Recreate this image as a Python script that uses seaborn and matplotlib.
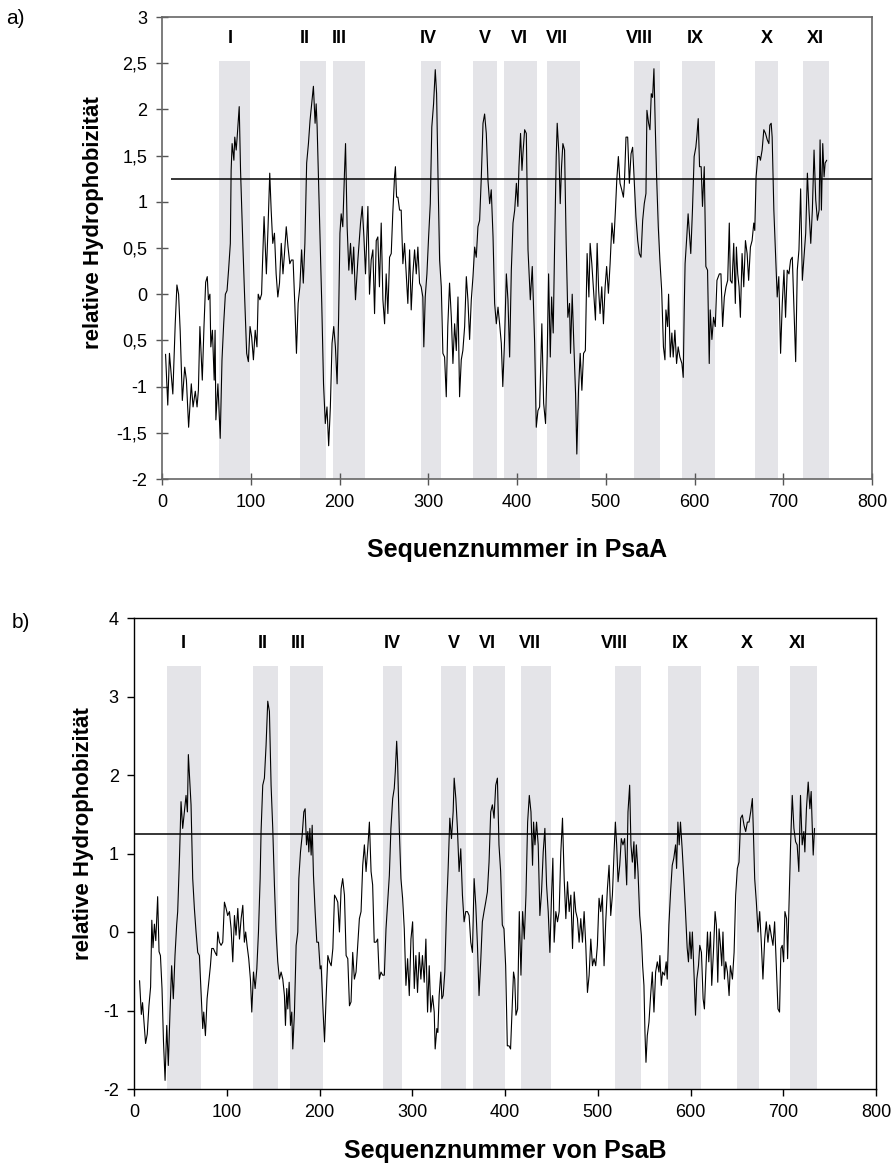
import numpy as np
import matplotlib
matplotlib.use("Agg")
import matplotlib.pyplot as plt
import seaborn as sns

# --- PsaA hydropathy profile ---
psaA_pos = [4, 6.5, 8.4, 12.2, 14.9, 16.8, 18.7, 20.5, 22.9, 25.6, 27.5, 30, 33, 35, 37.5, 39.5, 41, 42.7,
            45.4, 47.3, 49.2, 51, 52.3, 54, 55, 56.8, 58.8, 59.8, 60.7, 63, 65.6, 67.6, 69.5, 71.4, 73.3, 75,
            77, 77.9, 79, 81, 82, 83.6, 84.7, 87, 88.5, 91.2, 93, 95.4, 97.3, 99.2, 101, 103, 105, 107, 108.4,
            110.3, 112.2, 113, 115, 117.6, 119.5, 121.4, 123, 124.8, 126.7, 128.6, 130.5, 132.4, 134.4, 136.3,
            138, 140, 142, 144, 145.8, 147.7, 149.6, 151.5, 153.4, 155.3, 157.3, 159.2, 161, 163, 165, 166.8,
            168.7, 170.6, 172.5, 173.7, 174.8, 176.3, 178.2, 180, 182, 184, 185.9, 187.8, 189.7, 191.6, 193.5,
            195.4, 197.3, 199, 200.5, 201.9, 203.7, 205.6, 206.8, 208.6, 210.5, 212.4, 214.2, 216, 218, 220.7,
            223.7, 225.6, 227.5, 229.3, 232, 233.8, 235.7, 237.6, 239.5, 241.4, 243.2, 245, 247, 248.9, 250.8,
            252.6, 254.5, 256.4, 258.3, 260, 262, 263, 264.3, 265.8, 267.7, 269.5, 271.4, 273.3, 275.2, 277,
            279, 280.8, 282.7, 284.6, 286.5, 288.3, 290.2, 292, 293.9, 295, 296.6, 298.5, 300.4, 302.3, 304,
            306, 307.9, 309.4, 311, 312.8, 314.7, 316.5, 318.4, 320.3, 322, 324, 326, 327.8, 329.7, 331.6,
            333.5, 335.3, 337.2, 339, 341, 342.9, 344.7, 346.6, 348.5, 350.4, 352.3, 354.1, 356, 357.9, 359.8,
            361.7, 363.5, 365.4, 367.3, 369.2, 371, 373, 374.8, 376.7, 378.6, 380.4, 382.3, 384, 386, 388,
            389.8, 391.7, 393.6, 395.5, 397.4, 399.3, 401, 402.2, 404, 405.6, 406.7, 408.6, 410.5, 412.4, 415,
            417.2, 419.9, 421.7, 423.6, 425.5, 428, 430, 432.2, 434, 435.6, 437.5, 439, 440.8, 442.3, 444.2,
            445.3, 447.2, 448.7, 450.2, 451.7, 453.6, 455.4, 457.3, 459.2, 460.3, 462.2, 464, 466, 467.4, 469.3,
            471.2, 473.1, 475, 477, 479, 481, 482.4, 484.3, 486, 488.4, 490.3, 492, 493.6, 495.5, 497.4, 499.3,
            501, 503, 504.9, 507, 509, 510.9, 512.4, 514.2, 516.1, 518, 519.9, 521, 522.8, 524.7, 526.6, 528.5,
            530.3, 532.2, 534, 536, 537.8, 539.7, 541.6, 543.4, 545.3, 546.4, 548.3, 549.8, 551.3, 552.8, 554.3,
            555.8, 557.3, 559.2, 561, 563, 565, 566.7, 567.8, 569.7, 570.8, 572.7, 574.5, 576, 577.9, 579.8,
            581.6, 583.5, 585.8, 587.3, 588.4, 589.4, 591.3, 592.8, 594.3, 595.8, 597.7, 599.6, 601.5, 602.6,
            604.2, 605.7, 607.5, 609, 611, 612.8, 614.7, 616.6, 617.7, 619.6, 621.5, 623.4, 625.3, 628, 629.8,
            631.7, 633.6, 635.5, 637.4, 639.2, 640.4, 642.3, 644.2, 646, 647.2, 648.7, 650.2, 651.7, 653.6,
            655.5, 657.4, 659.3, 661, 663, 664.9, 666.8, 667.9, 669.4, 671.3, 673.2, 674.3, 676.2, 678.1, 680,
            682, 683.8, 684.9, 686.4, 687.5, 689.4, 691.3, 693.2, 695, 697, 698.9, 700.8, 702.6, 704.5, 706.4,
            708.3, 710.2, 712, 714, 715.8, 717.7, 719.6, 721.5, 723.4, 725.3, 727.2, 729, 731, 732.8, 734.7,
            736.6, 738.5, 740.4, 741.5, 743, 744.5, 746, 747.2, 749]
psaA_hyd = [-0.65, -1.2, -0.64, -1.08, -0.32, 0.1, 0.0, -0.4, -1.15, -0.79, -0.93, -1.44, -0.97, -1.22, -1.05,
            -1.22, -1.04, -0.35, -0.93, -0.35, 0.13, 0.19, -0.06, 0.0, -0.57, -0.39, -0.93, -0.39, -1.36, -0.97,
            -1.56, -0.71, -0.32, 0.0, 0.04, 0.26, 0.55, 1.34, 1.63, 1.45, 1.7, 1.56, 1.7, 2.03, 1.34, 0.51, 0.0,
            -0.64, -0.73, -0.35, -0.46, -0.71, -0.39, -0.57, 0.0, -0.06, 0.0, 0.26, 0.84, 0.22, 0.73, 1.31, 0.91,
            0.55, 0.66, 0.22, -0.03, 0.12, 0.55, 0.22, 0.44, 0.73, 0.51, 0.33, 0.37, 0.37, -0.1, -0.64, -0.1,
            0.08, 0.48, 0.12, 0.55, 1.42, 1.63, 1.88, 2.06, 2.25, 1.85, 2.06, 1.81, 1.27, 0.55, -0.1, -0.97,
            -1.4, -1.22, -1.64, -1.22, -0.53, -0.35, -0.57, -0.97, -0.25, 0.66, 0.87, 0.73, 1.31, 1.63, 0.73,
            0.26, 0.55, 0.22, 0.51, -0.06, 0.37, 0.77, 0.95, 0.62, 0.22, 0.95, 0.0, 0.37, 0.48, -0.21, 0.58,
            0.62, 0.08, 0.77, -0.06, -0.32, 0.22, -0.21, 0.4, 0.44, 0.87, 1.27, 1.38, 1.05, 1.05, 0.91, 0.91,
            0.33, 0.55, 0.22, -0.1, 0.48, -0.17, 0.22, 0.48, 0.22, 0.51, 0.12, 0.08, -0.03, -0.57, -0.03, 0.22,
            0.62, 0.98, 1.81, 2.06, 2.43, 2.17, 1.27, 0.37, 0.08, -0.64, -0.68, -1.11, -0.35, 0.12, -0.25,
            -0.75, -0.32, -0.61, -0.03, -1.11, -0.71, -0.61, -0.35, 0.19, -0.06, -0.49, -0.06, 0.19, 0.51, 0.4,
            0.73, 0.8, 1.27, 1.85, 1.95, 1.74, 1.23, 0.98, 1.13, 0.62, -0.1, -0.32, -0.14, -0.32, -0.53, -1.0,
            -0.49, 0.22, -0.06, -0.68, 0.26, 0.77, 0.91, 1.2, 0.95, 1.38, 1.74, 1.34, 1.52, 1.78, 1.74, 0.48,
            -0.06, 0.3, -0.53, -1.44, -1.26, -1.22, -0.32, -1.18, -1.4, -0.68, 0.22, -0.68, -0.03, -0.42, 0.48,
            1.49, 1.85, 1.52, 0.98, 1.38, 1.63, 1.56, 0.55, -0.25, -0.1, -0.64, 0.0, -0.53, -1.08, -1.73, -1.04,
            -0.64, -1.04, -0.64, -0.61, 0.44, -0.03, 0.55, 0.33, 0.08, -0.28, 0.55, 0.04, -0.21, 0.08, -0.32,
            0.08, 0.3, 0.01, 0.33, 0.77, 0.55, 0.91, 1.23, 1.49, 1.2, 1.13, 1.05, 1.2, 1.7, 1.7, 1.2, 1.52, 1.59,
            1.2, 0.84, 0.58, 0.44, 0.4, 0.8, 0.98, 1.09, 1.99, 1.85, 1.78, 2.17, 2.13, 2.44, 1.81, 1.27, 0.73,
            0.37, 0.04, -0.57, -0.71, -0.17, -0.35, 0.0, -0.68, -0.42, -0.68, -0.39, -0.75, -0.57, -0.68, -0.75,
            -0.9, -0.17, 0.33, 0.62, 0.87, 0.66, 0.44, 0.91, 1.49, 1.59, 1.7, 1.9, 1.38, 1.38, 0.95, 1.38, 0.3,
            0.26, -0.75, -0.17, -0.49, -0.25, -0.35, 0.15, 0.22, 0.22, -0.35, -0.03, 0.08, 0.15, 0.77, 0.15,
            0.12, 0.55, -0.1, 0.51, 0.22, 0.08, -0.25, 0.44, 0.08, 0.58, 0.44, 0.15, 0.51, 0.58, 0.77, 0.69,
            1.27, 1.49, 1.49, 1.45, 1.56, 1.78, 1.74, 1.67, 1.63, 1.83, 1.85, 1.7, 0.91, 0.44, -0.03, 0.19,
            -0.64, -0.1, 0.26, -0.25, 0.26, 0.22, 0.37, 0.4, -0.13, -0.73, 0.26, 0.48, 1.14, 0.15, 0.4, 0.66,
            1.31, 0.91, 0.55, 0.91, 1.56, 1.02, 0.8, 0.91, 1.67, 0.91, 1.63, 1.27, 1.42, 1.45]

# --- PsaB hydropathy profile ---
psaB_pos = [6, 7.9, 9.2, 10.8, 12.5, 14.3, 16.1, 17.9, 19.2, 20.5, 22, 23.5, 25.5, 27, 28.5, 30.2, 31.8, 33.5,
            35.3, 37, 38.8, 40.6, 42.4, 44.2, 46, 47.1, 48.9, 50.7, 52.5, 54.3, 56.1, 57.6, 58.6, 60.4, 61.5,
            63.3, 65.1, 66.9, 68.7, 70.5, 72.3, 74.1, 75.2, 77, 78.8, 80.6, 82.4, 83.8, 85.6, 87.4, 89.2, 90.3,
            92.1, 93.9, 95.7, 97.5, 99.3, 101, 102.9, 104.7, 106.5, 108.3, 110, 111.9, 113.7, 115.5, 117.3, 119,
            120.4, 121.9, 123.7, 125.5, 127, 128.8, 130.6, 132.4, 134.2, 136, 137, 138.8, 140.6, 142.4, 144.2,
            146, 147.8, 149.6, 151.4, 153.2, 155, 156.8, 158.6, 160.4, 162.2, 163.3, 164.7, 165.8, 167.3, 168.7,
            170.1, 171.2, 173, 174.8, 176.6, 177.7, 179.5, 181.3, 183.1, 184.5, 186, 187.4, 188.5, 189.6, 191,
            192.1, 193.5, 195.3, 197.1, 198.9, 200.7, 201.8, 203.6, 205.4, 207.2, 209, 210.8, 212.6, 214.4,
            216.2, 218, 219.7, 221.5, 223.3, 225, 226.9, 228.7, 230.5, 232.3, 234, 235.8, 237.6, 239.4, 241.2,
            243, 244.8, 246.6, 248.4, 250.2, 252, 253.8, 255.6, 257.3, 259, 260.9, 262.7, 264.5, 266.3, 268.1,
            269.9, 271.7, 273.5, 275.3, 277, 278.9, 280.6, 281.7, 283.2, 284.2, 286, 287.8, 289.6, 291.4, 293.2,
            295, 296.8, 298.6, 300.4, 302.2, 303.9, 305.7, 307.5, 309.3, 311, 312.9, 314.7, 316.5, 318.3, 320,
            321.9, 323.7, 324.7, 326.5, 327.6, 329, 330.8, 331.9, 333.3, 335.1, 336.9, 338.7, 340.5, 342.3,
            344.1, 345.2, 347, 348.7, 350.5, 352.3, 354.1, 355.9, 357.7, 359.5, 361.3, 363.1, 364.9, 366.7,
            368.5, 370.3, 372, 373.8, 375.6, 377.4, 379.2, 381, 382.8, 384.6, 386.4, 388.2, 390, 391.8, 393.5,
            395.3, 397.1, 398.9, 400.7, 402.5, 404.3, 406, 407.9, 409.2, 410.5, 411.8, 413.6, 415.4, 417.2, 419,
            420.8, 422.6, 424.4, 426.2, 428, 429.7, 430.8, 432.3, 434, 435.8, 437.6, 439.4, 441.2, 443, 444.8,
            446.6, 448.4, 450.2, 451.6, 453, 454.8, 456.6, 458.4, 460.2, 462, 463.8, 465.6, 467.4, 469.2, 471,
            472.8, 474.6, 476.3, 478.1, 479.9, 481.7, 483.5, 485.3, 487.1, 488.9, 490.7, 492.5, 494.3, 496,
            497.8, 499.6, 501.4, 503.2, 505, 506.8, 508.6, 510.4, 512.2, 514, 515.8, 517.6, 519, 520.4, 521.9,
            523.7, 525.4, 527.2, 529, 531.2, 532.6, 534.4, 535.8, 537.3, 539, 540.1, 541.6, 543.4, 545.2, 547,
            548.4, 549.8, 550.9, 552, 553.4, 555.2, 557, 558.8, 560.6, 562.4, 564.2, 566, 567, 568.5, 569.9, 572,
            573.8, 574.9, 576.7, 578.5, 580.3, 582, 583.9, 585, 586.4, 587.8, 589.2, 591, 592.8, 594.6, 596.4,
            597.8, 599.3, 600.7, 602, 604, 605.4, 606.8, 608.6, 610, 611.8, 613.6, 615, 616.5, 618.3, 619.7,
            621.5, 622.9, 624.7, 626.5, 627.9, 629.4, 630.8, 632.3, 633.7, 635, 636.6, 638, 639.8, 641.6, 643,
            645.2, 647, 648.7, 650.5, 652.3, 654.1, 655.9, 657.7, 659.5, 661.3, 663.1, 664.9, 666.7, 667.7,
            669.2, 671, 672.8, 674.6, 676.3, 678.1, 680, 681.7, 683.5, 685.3, 687, 688.9, 690.7, 692.5, 694.3,
            696, 697.5, 698.9, 700.4, 701.8, 703.6, 704.7, 706, 707.9, 709.7, 711.5, 713.3, 715, 716.8, 718.6,
            720.4, 722.2, 723.3, 725, 726.9, 728.7, 730.1, 731.2, 732.3, 733.7]
psaB_hyd = [-0.62, -1.05, -0.9, -1.16, -1.42, -1.3, -0.94, -0.7, 0.15, -0.2, 0.1, -0.11, 0.45, -0.25, -0.3,
            -0.72, -1.4, -1.89, -1.19, -1.7, -1.02, -0.43, -0.85, -0.3, 0.09, 0.26, 0.89, 1.66, 1.32, 1.53, 1.74,
            1.53, 2.26, 1.87, 1.62, 0.68, 0.3, 0.0, -0.26, -0.3, -0.77, -1.23, -1.02, -1.32, -0.85, -0.64, -0.43,
            -0.21, -0.21, -0.26, -0.3, 0.0, -0.13, -0.17, -0.13, 0.38, 0.3, 0.21, 0.26, 0.04, -0.38, 0.21, -0.04,
            0.3, -0.09, 0.17, 0.34, -0.13, 0.0, -0.17, -0.34, -0.6, -1.02, -0.51, -0.72, -0.47, 0.0, 0.68, 1.28,
            1.87, 1.96, 2.38, 2.94, 2.81, 1.87, 1.32, 0.6, 0.0, -0.38, -0.6, -0.51, -0.6, -0.81, -1.19, -0.72,
            -0.98, -0.64, -1.19, -1.02, -1.49, -1.02, -0.17, 0.0, 0.68, 1.02, 1.23, 1.53, 1.57, 1.11, 1.28, 1.02,
            1.32, 0.98, 1.36, 0.72, 0.26, -0.13, -0.13, -0.47, -0.43, -0.94, -1.4, -0.81, -0.3, -0.38, -0.43,
            -0.21, 0.47, 0.43, 0.38, 0.0, 0.55, 0.68, 0.47, -0.3, -0.34, -0.94, -0.89, -0.26, -0.6, -0.51, -0.17,
            0.17, 0.26, 0.85, 1.11, 0.77, 1.06, 1.4, 0.77, 0.6, -0.13, -0.13, -0.09, -0.6, -0.51, -0.55, -0.55,
            0.04, 0.38, 0.72, 1.32, 1.7, 1.83, 2.04, 2.43, 2.17, 1.32, 0.68, 0.43, 0.04, -0.68, -0.34, -0.81,
            -0.09, 0.13, -0.72, -0.3, -0.77, -0.26, -0.6, -0.3, -0.64, -0.09, -1.02, -0.43, -1.02, -0.81, -1.02,
            -1.49, -1.23, -1.28, -0.81, -0.51, -0.85, -0.81, -0.51, 0.26, 0.81, 1.45, 1.19, 1.53, 1.96, 1.7, 1.32,
            0.77, 1.06, 0.47, 0.13, 0.26, 0.26, 0.21, -0.13, -0.26, 0.68, 0.34, -0.17, -0.81, -0.38, 0.13, 0.26,
            0.38, 0.51, 0.89, 1.53, 1.62, 1.45, 1.87, 1.96, 1.11, 0.77, 0.09, 0.04, -0.43, -1.45, -1.45, -1.49,
            -0.9, -0.51, -0.6, -1.06, -0.98, 0.26, -0.55, 0.26, -0.09, 0.47, 1.4, 1.74, 1.53, 0.85, 1.4, 1.11,
            1.4, 1.11, 0.21, 0.51, 1.02, 1.32, 0.6, 0.26, -0.26, 0.47, 0.94, -0.13, 0.26, 0.13, 0.26, 1.02, 1.45,
            0.68, 0.17, 0.64, 0.26, 0.47, -0.21, 0.51, 0.26, 0.17, -0.13, 0.17, -0.13, 0.26, -0.17, -0.77, -0.55,
            -0.09, -0.43, -0.34, -0.43, -0.17, 0.43, 0.26, 0.47, -0.43, 0.13, 0.55, 0.85, 0.21, 0.47, 1.02, 1.4,
            1.11, 0.64, 0.85, 1.19, 1.11, 1.19, 0.6, 1.53, 1.87, 1.11, 0.89, 1.15, 0.68, 1.11, 0.77, 0.21, -0.04,
            -0.43, -0.68, -1.28, -1.66, -1.32, -1.15, -0.81, -0.51, -1.02, -0.51, -0.38, -0.51, -0.3, -0.68,
            -0.51, -0.55, -0.38, -0.6, 0.09, 0.51, 0.85, 0.94, 1.11, 0.81, 1.4, 1.11, 1.4, 1.06, 0.68, 0.26,
            -0.2, -0.38, 0.0, -0.34, 0.0, -0.6, -1.06, -0.6, -0.43, -0.17, -0.26, -0.85, -0.98, -0.51, 0.0,
            -0.38, 0.0, -0.68, -0.26, 0.26, 0.09, -0.64, 0.04, -0.17, -0.43, 0.0, -0.6, -0.38, -0.51, -0.81,
            -0.43, -0.6, -0.26, 0.47, 0.81, 0.89, 1.45, 1.49, 1.36, 1.28, 1.4, 1.4, 1.53, 1.7, 1.32, 0.68, 0.38,
            0.0, 0.26, -0.13, -0.6, -0.09, 0.13, -0.13, 0.09, -0.04, -0.17, 0.13, -0.43, -0.98, -1.02, -0.21,
            -0.17, -0.38, 0.26, 0.17, -0.34, 0.26, 1.11, 1.74, 1.32, 1.15, 1.11, 0.77, 1.74, 1.11, 1.28, 1.02,
            1.57, 1.91, 1.57, 1.79, 1.36, 0.98, 1.32]

# --- transmembrane helices ---
helix_names = ["I", "II", "III", "IV", "V", "VI", "VII", "VIII", "IX", "X", "XI"]
psaA_helix_start = [64, 156, 193, 292, 350, 385, 434, 532, 586, 668, 722]
psaA_helix_end = [99, 185, 229, 314, 378, 422, 471, 561, 623, 694, 751]
psaA_label_pos = [77, 161, 200, 300, 364, 403, 445, 538, 601, 682, 736]
psaB_helix_start = [36, 128, 168, 268, 331, 366, 417, 519, 576, 650, 707]
psaB_helix_end = [72, 155, 204, 289, 358, 400, 450, 547, 611, 674, 736]
psaB_label_pos = [53, 139, 177, 278, 345, 381, 427, 518, 589, 661, 715]

threshold = 1.25
psaA_threshold_start = 10
psaA_yticks = [3, 2.5, 2, 1.5, 1, 0.5, 0, -0.5, -1, -1.5, -2]
psaA_ytick_labels = ["3", "2,5", "2", "1,5", "1", "0,5", "0", "0,5", "-1", "-1,5", "-2"]
psaB_yticks = [-2, -1, 0, 1, 2, 3, 4]
xticks = [0, 100, 200, 300, 400, 500, 600, 700, 800]

sns.set_theme(style="ticks")
plt.rcParams["font.family"] = ["Liberation Sans", "DejaVu Sans"]
plt.rcParams["axes.unicode_minus"] = False
plt.rcParams["text.color"] = "black"
plt.rcParams["xtick.color"] = "black"
plt.rcParams["ytick.color"] = "black"
plt.rcParams["xtick.labelcolor"] = "black"
plt.rcParams["ytick.labelcolor"] = "black"

W, H = 893, 1168
fig = plt.figure(figsize=(W / 100, H / 100), dpi=100)
shade = "#e4e4e8"


def px_axes(left, top, right, bottom):
    return fig.add_axes([left / W, 1 - bottom / H, (right - left) / W, (bottom - top) / H])


def draw_panel(ax, pos, hyd, starts, ends, label_pos, ylim, shade_top, label_y):
    y0, y1 = ylim
    for s, e in zip(starts, ends):
        ax.axvspan(s, e, ymin=0, ymax=(shade_top - y0) / (y1 - y0), color=shade, lw=0, zorder=0)
    sns.lineplot(x=pos, y=hyd, ax=ax, color="black", lw=0.8, sort=False, estimator=None, zorder=3)
    for name, p in zip(helix_names, label_pos):
        ax.text(p, label_y, name, ha="center", va="center", fontsize=13, fontweight="bold", color="black")
    ax.set_xlim(0, 800)
    ax.set_ylim(y0, y1)
    ax.set_xticks(xticks)
    ax.set_xlabel("")
    ax.set_ylabel("")


# panel a
ax_a = px_axes(162, 17, 872, 479)
draw_panel(ax_a, psaA_pos, psaA_hyd, psaA_helix_start, psaA_helix_end, psaA_label_pos,
           (-2, 3), 2.52, 2.77)
ax_a.hlines(threshold, psaA_threshold_start, 800, color="black", lw=1.1, zorder=4)
ax_a.set_yticks(psaA_yticks)
ax_a.set_yticklabels(psaA_ytick_labels)
ax_a.tick_params(direction="inout", length=9, width=1, labelsize=13, color="#555555",
                 labelcolor="black", pad=6)
for sp in ax_a.spines.values():
    sp.set_color("#666666")
    sp.set_linewidth(1.2)

# panel b
ax_b = px_axes(134, 618, 876, 1089)
draw_panel(ax_b, psaB_pos, psaB_hyd, psaB_helix_start, psaB_helix_end, psaB_label_pos,
           (-2, 4), 3.39, 3.67)
ax_b.axhline(threshold, color="black", lw=1.1, zorder=4)
ax_b.set_yticks(psaB_yticks)
ax_b.tick_params(direction="out", length=5, width=1, labelsize=13, color="black",
                 labelcolor="black", pad=6)
for sp in ax_b.spines.values():
    sp.set_color("black")
    sp.set_linewidth(1.0)

# axis titles and panel letters
lab = dict(fontsize=18, fontweight="bold", color="black")
fig.text(517 / W, 1 - 550 / H, "Sequenznummer in PsaA", ha="center", va="center", **lab)
fig.text(505 / W, 1 - 1151 / H, "Sequenznummer von PsaB", ha="center", va="center", **lab)
fig.text(94 / W, 1 - 223 / H, "relative Hydrophobizität", rotation=90, ha="center", va="center",
         fontsize=16, fontweight="bold", color="black")
fig.text(84 / W, 1 - 834 / H, "relative Hydrophobizität", rotation=90, ha="center", va="center",
         fontsize=16, fontweight="bold", color="black")
fig.text(6 / W, 1 - 18 / H, "a)", ha="left", va="center", fontsize=15, color="black")
fig.text(12 / W, 1 - 622 / H, "b)", ha="left", va="center", fontsize=15, color="black")

fig.savefig("out.png", dpi=100)
